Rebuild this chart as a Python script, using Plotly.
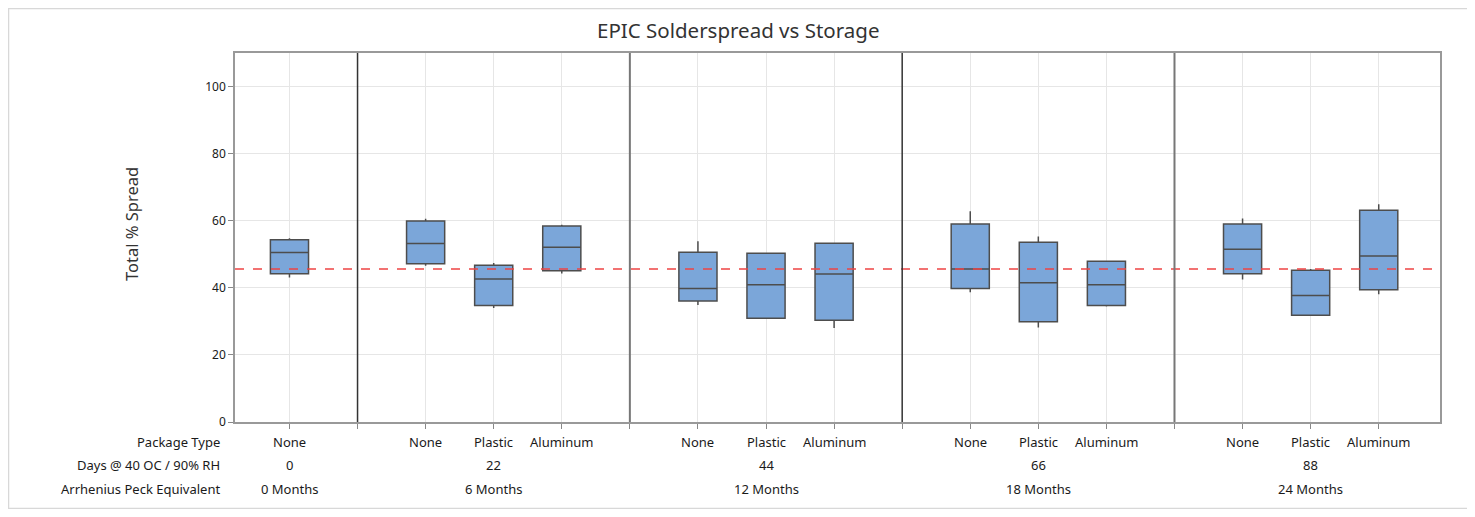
import plotly.graph_objects as go

# ---- data ----
package_types = ["None", "None", "Plastic", "Aluminum", "None", "Plastic", "Aluminum",
                 "None", "Plastic", "Aluminum", "None", "Plastic", "Aluminum"]
positions = [0, 2, 3, 4, 6, 7, 8, 10, 11, 12, 14, 15, 16]
q1 = [44.2, 47.2, 34.7, 45.1, 36.1, 30.9, 30.3, 39.8, 29.9, 34.7, 44.2, 31.8, 39.4]
median = [50.5, 53.2, 42.6, 52.1, 39.8, 40.9, 44.1, 45.6, 41.5, 40.9, 51.5, 37.7, 49.5]
q3 = [54.3, 59.9, 46.7, 58.4, 50.6, 50.3, 53.3, 59.0, 53.6, 47.9, 59.0, 45.2, 63.1]
lower_whisker = [43.1, 46.6, 34.0, 44.3, 34.9, 30.9, 28.0, 38.7, 28.2, 34.4, 42.5, 31.8, 38.1]
upper_whisker = [54.8, 60.6, 47.4, 58.8, 53.9, 50.5, 53.3, 62.8, 55.3, 47.9, 60.7, 45.6, 64.9]

group_centers = [0, 3, 7, 11, 15]
days = ["0", "22", "44", "66", "88"]
months = ["0 Months", "6 Months", "12 Months", "18 Months", "24 Months"]
separators = [1, 5, 9, 13]
reference_value = 45.6

FONT = "Noto Sans, Open Sans, sans-serif"
TXT = "#1a1a1a"
LBL = 13

fig = go.Figure()
for i in range(len(positions)):
    fig.add_trace(go.Box(
        x=[positions[i]], q1=[q1[i]], median=[median[i]], q3=[q3[i]],
        lowerfence=[lower_whisker[i]], upperfence=[upper_whisker[i]],
        width=0.56, whiskerwidth=0,
        fillcolor="#7BA6D9", line=dict(color="#4d4d4d", width=1.5),
        boxpoints=False, showlegend=False, hoverinfo="skip",
    ))

x0, x1 = -0.8, 16.9
fig.add_shape(type="line", xref="x", yref="y", x0=x0, x1=x1,
              y0=reference_value, y1=reference_value,
              line=dict(color="#EE4444", width=1.5, dash="dash"), layer="above")
sep_styles = [("#333333", 1.5), ("#777777", 2), ("#333333", 1.5), ("#777777", 2)]
for s, (col, lw) in zip(separators, sep_styles):
    fig.add_shape(type="line", xref="x", yref="paper", x0=s, x1=s, y0=0, y1=1,
                  line=dict(color=col, width=lw), layer="above")

# page has an 8px body margin; compensate so positions match the reference
OFF = 8
W, H = 1475 - 2 * OFF, 517 - 2 * OFF
ml, mt = 235 - OFF, 53 - OFF
mr = W - (1440 - OFF)
mb = H - (422 - OFF)
pw, ph = W - ml - mr, H - mt - mb

def px_x(p):
    return (p - OFF - ml) / pw

def px_y(p):
    return (H - mb - (p - OFF)) / ph

fig.add_shape(type="rect", xref="paper", yref="paper",
              x0=px_x(OFF + 0.5), x1=px_x(1471), y0=px_y(H + OFF - 0.5), y1=px_y(OFF + 0.5),
              line=dict(color="#d8d8d8", width=1.5))

# title and y-axis title
fig.add_annotation(xref="paper", yref="paper", x=px_x(738), y=px_y(30),
                   text="EPIC Solderspread vs Storage", showarrow=False,
                   xanchor="center", yanchor="middle",
                   font=dict(size=20.5, color="#333333", family=FONT))
fig.add_annotation(xref="paper", yref="paper", x=px_x(131), y=px_y(224),
                   text="Total % Spread", showarrow=False, textangle=-90,
                   xanchor="center", yanchor="middle",
                   font=dict(size=16.5, color="#333333", family=FONT))

rows_y = [442, 465, 489]
row_names = ["Package Type", "Days @ 40 OC / 90% RH", "Arrhenius Peck Equivalent"]
for ry, name in zip(rows_y, row_names):
    fig.add_annotation(xref="paper", yref="paper", x=px_x(222), y=px_y(ry),
                       text=name, showarrow=False, xanchor="right", yanchor="middle",
                       font=dict(size=LBL, color=TXT, family=FONT))
for p, t in zip(positions, package_types):
    fig.add_annotation(xref="x", yref="paper", x=p, y=px_y(rows_y[0]), text=t,
                       showarrow=False, xanchor="center", yanchor="middle",
                       font=dict(size=LBL, color=TXT, family=FONT))
for c, d, m in zip(group_centers, days, months):
    fig.add_annotation(xref="x", yref="paper", x=c, y=px_y(rows_y[1]), text=d,
                       showarrow=False, xanchor="center", yanchor="middle",
                       font=dict(size=LBL, color=TXT, family=FONT))
    fig.add_annotation(xref="x", yref="paper", x=c, y=px_y(rows_y[2]), text=m,
                       showarrow=False, xanchor="center", yanchor="middle",
                       font=dict(size=LBL, color=TXT, family=FONT))

fig.update_layout(
    width=W, height=H,
    margin=dict(l=ml, r=mr, t=mt, b=mb),
    paper_bgcolor="white", plot_bgcolor="white",
    font=dict(family=FONT, size=12, color=TXT),
    xaxis=dict(range=[x0, x1], tickvals=positions + separators,
               ticktext=[""] * (len(positions) + len(separators)),
               showgrid=True, gridcolor="#e6e6e6", gridwidth=1,
               ticks="outside", ticklen=5, tickcolor="#888888",
               showline=True, linecolor="#999999", linewidth=1.5, mirror=True,
               zeroline=False, fixedrange=True),
    yaxis=dict(range=[0, 110], tickvals=[0, 20, 40, 60, 80, 100],
               showgrid=True, gridcolor="#e6e6e6", gridwidth=1,
               ticks="outside", ticklen=5, tickcolor="#888888",
               showline=True, linecolor="#999999", linewidth=1.5, mirror=True,
               zeroline=False,
               tickfont=dict(size=12, color=TXT, family=FONT)),
)

fig.write_html("out.html")
